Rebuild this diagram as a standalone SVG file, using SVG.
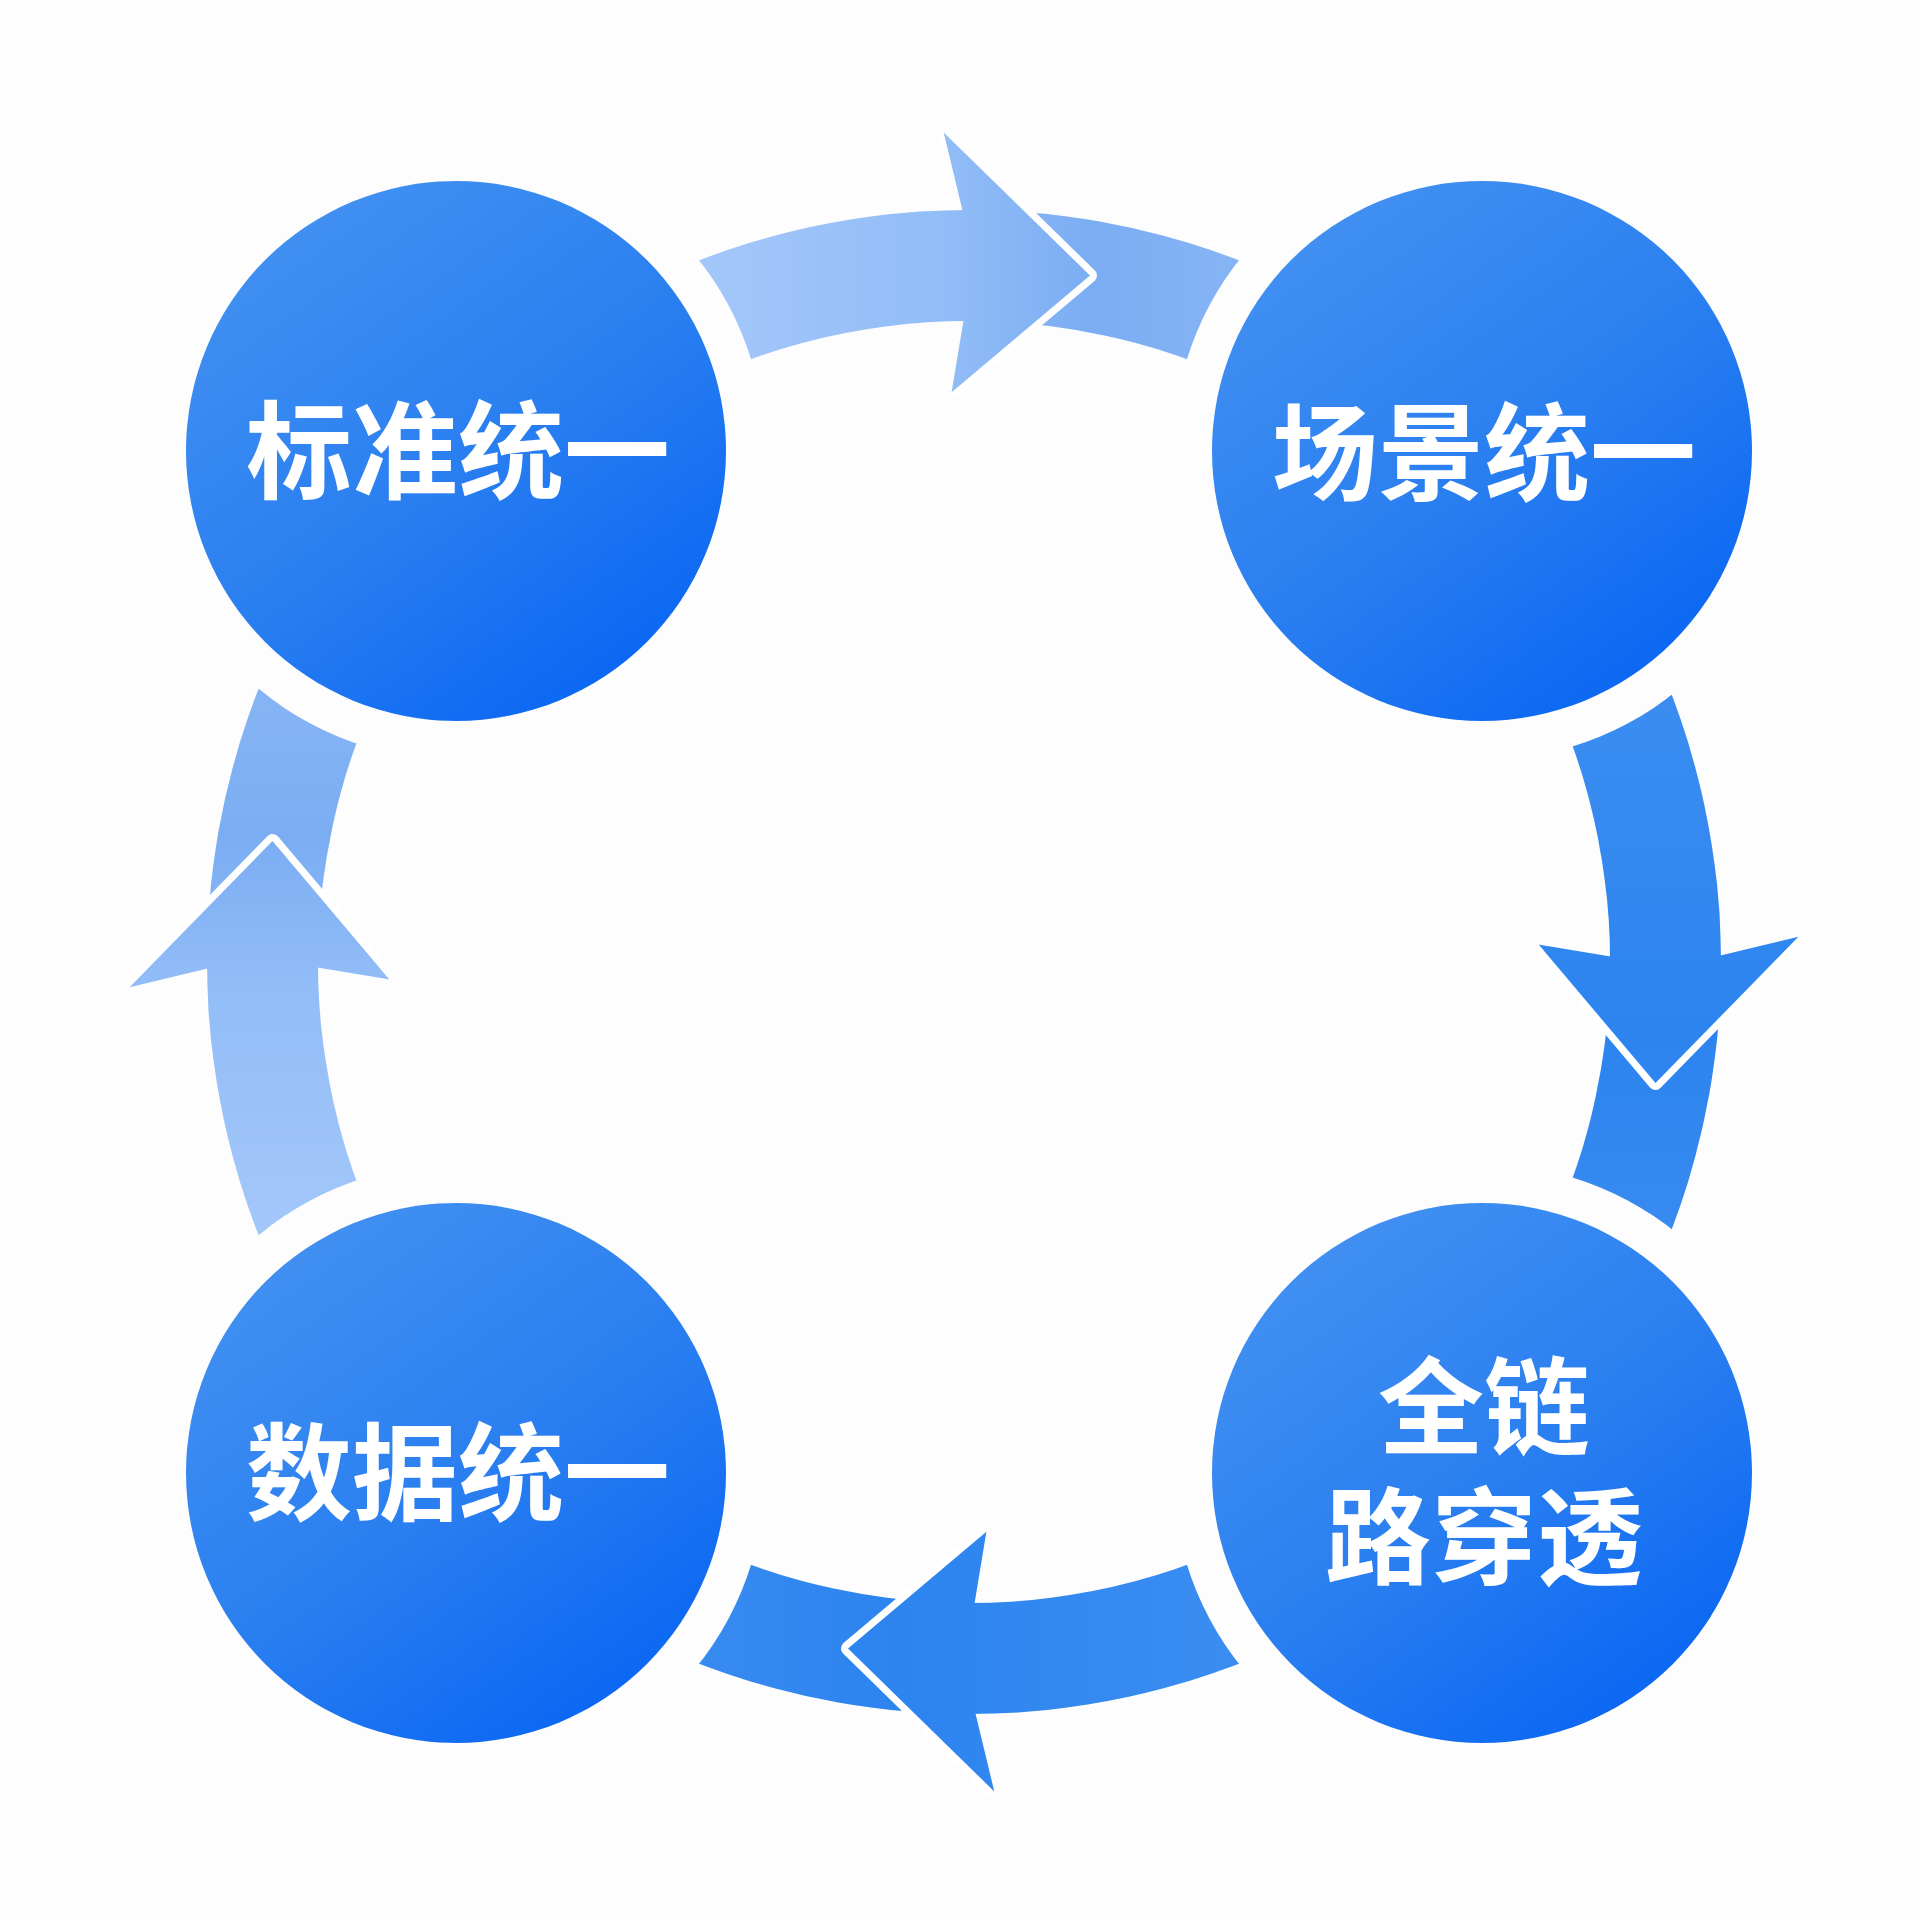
<svg xmlns="http://www.w3.org/2000/svg" width="1920" height="1920" viewBox="0 0 1920 1920">
  <defs>
    <linearGradient id="gLight" gradientUnits="userSpaceOnUse" x1="650" y1="300" x2="1300" y2="300">
      <stop offset="0" stop-color="#a7c9fa"/>
      <stop offset="0.45" stop-color="#92bdf7"/>
      <stop offset="0.68" stop-color="#7badf3"/>
      <stop offset="1" stop-color="#8ab8f6"/>
    </linearGradient>
    <linearGradient id="gDark" gradientUnits="userSpaceOnUse" x1="650" y1="300" x2="1300" y2="300">
      <stop offset="0" stop-color="#3d8ef1"/>
      <stop offset="0.6" stop-color="#2d84ef"/>
      <stop offset="1" stop-color="#3a8cf0"/>
    </linearGradient>
    <linearGradient id="gNode" x1="0.2" y1="0.05" x2="0.85" y2="0.95">
      <stop offset="0" stop-color="#4290f1"/>
      <stop offset="0.5" stop-color="#2a7ff0"/>
      <stop offset="1" stop-color="#0865f3"/>
    </linearGradient>
    <mask id="gapMask" maskUnits="userSpaceOnUse" x="0" y="0" width="1920" height="1920">
      <rect x="0" y="0" width="1920" height="1920" fill="#fff"/>
      <circle cx="456" cy="451" r="309" fill="#000"/>
      <circle cx="1482" cy="451" r="309" fill="#000"/>
      <circle cx="456" cy="1473" r="309" fill="#000"/>
      <circle cx="1482" cy="1473" r="309" fill="#000"/>
    </mask>
    <g id="arrowShape">
      <path d="M593,310.8 A752,752 0 0 1 1345,310.8 L1289.5,406.9 A641,641 0 0 0 648.5,406.9 Z"/>
      <polyline points="943.7,132.4 1090,275.6 951.6,392.3" fill="none" stroke="#ffffff" stroke-width="14" stroke-linejoin="round"/>
      <path d="M962.4,210 L943.7,132.4 L1090,275.6 L951.6,392.3 L963.4,321 Z"/>
    </g>
  </defs>
  <style>
    .light { fill: url(#gLight); }
    .dark { fill: url(#gDark); }
    .node circle { fill: url(#gNode); }
    .label { font-family: "Noto Sans CJK SC", "Noto Sans", sans-serif; font-size: 106px; font-weight: 700; fill: #ffffff; text-anchor: middle; }
  </style>
  <rect x="0" y="0" width="1920" height="1920" fill="#fdfdfd"/>

  <g id="connectors" mask="url(#gapMask)">
    <g id="arrow-top" class="light">
      <use href="#arrowShape"/>
    </g>
    <g id="arrow-right" class="dark" transform="rotate(90 969 962)">
      <use href="#arrowShape"/>
    </g>
    <g id="arrow-bottom" class="dark" transform="rotate(180 969 962)">
      <use href="#arrowShape"/>
    </g>
    <g id="arrow-left" class="light" transform="translate(-10 0) rotate(270 969 962)">
      <use href="#arrowShape"/>
    </g>
  </g>

  <g id="node-standard" class="node">
    <circle cx="456" cy="451" r="270"/>
    <text class="label" x="458" y="490">标准统一</text>
  </g>
  <g id="node-scene" class="node">
    <circle cx="1482" cy="451" r="270"/>
    <text class="label" x="1484" y="492">场景统一</text>
  </g>
  <g id="node-trace" class="node">
    <circle cx="1482" cy="1473" r="270"/>
    <text class="label" x="1484" y="1446">全链</text>
    <text class="label" x="1484" y="1576">路穿透</text>
  </g>
  <g id="node-data" class="node">
    <circle cx="456" cy="1473" r="270"/>
    <text class="label" x="458" y="1512">数据统一</text>
  </g>
</svg>
